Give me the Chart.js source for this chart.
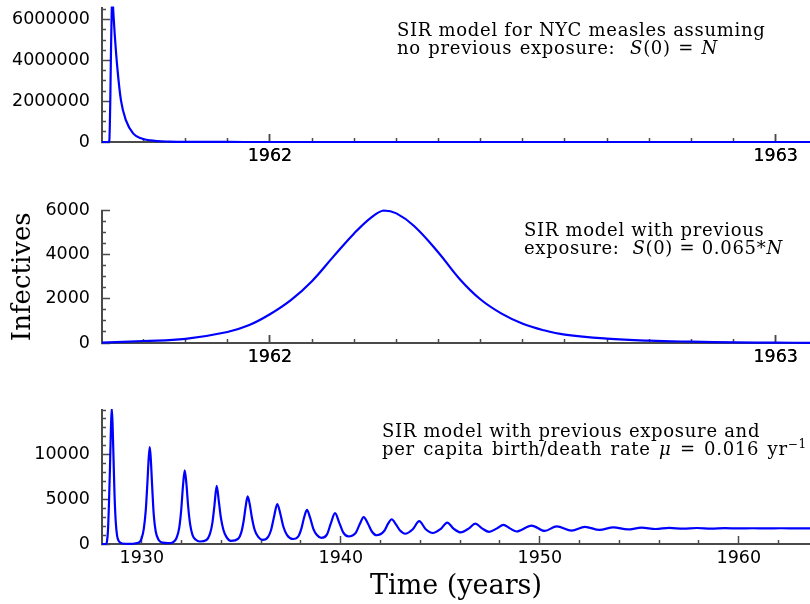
<!DOCTYPE html>
<html>
<head>
<meta charset="utf-8">
<script src="https://cdn.jsdelivr.net/npm/chart.js@4/dist/chart.umd.min.js"></script>
<style>
html,body{margin:0;padding:0;background:#fff;width:810px;height:604px;overflow:hidden;}
#wrap{position:relative;width:810px;height:604px;overflow:hidden;background:#fff;}
.cv{position:absolute;left:0;}
.note{position:absolute;font-family:"DejaVu Serif",serif;font-size:18px;line-height:18px;letter-spacing:0.7px;white-space:nowrap;color:#000;}
.note sup{font-size:12px;line-height:0;}
.ws1{word-spacing:1px;}
.ws3{word-spacing:2px;}
</style>
</head>
<body>
<div id="wrap">
  <canvas id="c1" class="cv" style="top:-23px" width="810" height="198"></canvas>
  <canvas id="c2" class="cv" style="top:180px" width="810" height="195"></canvas>
  <canvas id="c3" class="cv" style="top:375px" width="810" height="229"></canvas>
  <div class="note" style="left:397px;top:21px">SIR model for NYC measles assuming<br><span class="ws1">no previous exposure:&nbsp; <i>S</i>(0) = <i>N</i></span></div>
  <div class="note" style="left:524px;top:221px">SIR model with previous<br>exposure:&nbsp; <i>S</i>(0) = 0.065*<i>N</i></div>
  <div class="note" style="left:382px;top:422px">SIR model with previous exposure and<br><span class="ws3">per capita birth/death rate <i>μ</i> = 0.016 yr<sup>−1</sup></span></div>
</div>
<script>
// ---- Panel 1: no previous exposure (time in years, infectives)
const t1 = [1961.668, 1961.680, 1961.6824, 1961.6844, 1961.6858, 1961.6885, 1961.6903, 1961.6931, 1961.6982, 1961.7055, 1961.7154, 1961.7299, 1961.7465, 1961.763, 1961.80, 1961.85, 1961.95, 1962.2, 1963.07];
const i1 = [0, 0, 50000, 2040000, 4500000, 7200000, 6400000, 5300000, 3670000, 2040000, 1060000, 410000, 170000, 80000, 20000, 5000, 1000, 0, 0];

// ---- Panel 2: previous exposure S(0)=0.065N
const t2 = [1961.668, 1961.75, 1961.833, 1961.916, 1961.958, 1962.0, 1962.042, 1962.083, 1962.125, 1962.166, 1962.2, 1962.225, 1962.25, 1962.285, 1962.333, 1962.375, 1962.416, 1962.458, 1962.5, 1962.541, 1962.583, 1962.666, 1962.75, 1962.833, 1962.92, 1963.0, 1963.07];
const i2 = [20, 90, 190, 500, 800, 1300, 1950, 2800, 3900, 4950, 5680, 6000, 5870, 5300, 4100, 2900, 1980, 1330, 870, 580, 380, 200, 105, 60, 30, 15, 10];

// ---- Panel 3: with births/deaths
const t3 = [
  1928.00, 1928.20, 1928.25, 1928.30, 1928.35, 1928.40, 1928.45, 1928.49, 1928.53, 1928.58, 1928.63, 1928.69, 1928.76, 1928.85, 1929.00, 1929.40, 1929.70,
  1929.90, 1930.00, 1930.10, 1930.20, 1930.28, 1930.35, 1930.40, 1930.45, 1930.52, 1930.60, 1930.70, 1930.85, 1931.05, 1931.33,
  1931.60, 1931.75, 1931.88, 1931.98, 1932.07, 1932.156, 1932.24, 1932.33, 1932.43, 1932.55, 1932.70, 1932.92,
  1933.25, 1933.42, 1933.55, 1933.65, 1933.764, 1933.87, 1933.97, 1934.10, 1934.25, 1934.48,
  1934.85, 1935.00, 1935.12, 1935.22, 1935.32, 1935.42, 1935.53, 1935.67, 1935.85, 1936.08,
  1936.35, 1936.50, 1936.64, 1936.81, 1936.97, 1937.12, 1937.30, 1937.60,
  1937.88, 1938.03, 1938.16, 1938.30, 1938.45, 1938.62, 1938.80, 1939.02,
  1939.30, 1939.50, 1939.71, 1939.92, 1940.12, 1940.38,
  1940.75, 1940.95, 1941.15, 1941.36, 1941.56, 1941.80,
  1942.18, 1942.37, 1942.56, 1942.77, 1942.98, 1943.23,
  1943.62, 1943.94, 1944.27, 1944.62,
  1945.03, 1945.35, 1945.68, 1946.03,
  1946.44, 1946.76, 1947.10, 1947.45,
  1947.85, 1948.17, 1948.50, 1948.84,
  1949.59, 1950.25, 1950.85, 1951.60, 1952.27, 1953.00, 1953.70, 1954.42, 1955.12, 1955.82,
  1956.50, 1957.20, 1957.90, 1958.62, 1959.30, 1960.00, 1960.70, 1961.40, 1962.10, 1963.00, 1963.60
];
const i3 = [
  0, 0, 300, 1500, 4500, 8500, 13000, 15200, 13500, 9500, 5500, 2500, 900, 300, 60, 10, 80,
  250, 700, 1700, 3800, 6800, 9700, 10860, 9600, 6500, 3300, 1400, 450, 150, 90,
  250, 700, 1800, 3800, 6500, 8240, 6800, 4200, 2200, 1000, 500, 280,
  450, 1100, 2400, 4300, 6520, 4800, 3000, 1600, 800, 350,
  600, 1300, 2600, 4200, 5320, 4500, 3000, 1600, 800, 460,
  800, 1600, 3000, 4460, 3300, 1900, 1000, 560,
  900, 1800, 3000, 3820, 3000, 1700, 1000, 680,
  1050, 2300, 3450, 2400, 1300, 850,
  1250, 2200, 3000, 2300, 1400, 980,
  1450, 2250, 2770, 2200, 1500, 1150,
  1650, 2550, 1650, 1230,
  1700, 2400, 1700, 1300,
  1750, 2280, 1750, 1360,
  1750, 2130, 1750, 1400,
  2060, 1460, 1980, 1500, 1920, 1570, 1870, 1630, 1830, 1680,
  1800, 1710, 1790, 1730, 1775, 1745, 1765, 1752, 1762, 1756, 1758
];

// ---- Tick values
const xMajorA = [1962, 1963];
const xMinorA = []; for (let m = 9; m <= 24; m++) xMinorA.push(1961 + m / 12);
const xMajorB = [1930, 1940, 1950, 1960];
const xMinorB = [1932, 1934, 1936, 1938, 1942, 1944, 1946, 1948, 1952, 1954, 1956, 1958, 1962];
const y1Major = [0, 2000000, 4000000, 6000000];
const y1Minor = [500000, 1000000, 1500000, 2500000, 3000000, 3500000, 4500000, 5000000, 5500000, 6500000];
const y2Major = [0, 2000, 4000, 6000];
const y2Minor = [500, 1000, 1500, 2500, 3000, 3500, 4500, 5000, 5500];
const y3Major = [0, 5000, 10000];
const y3Minor = [1000, 2000, 3000, 4000, 6000, 7000, 8000, 9000, 11000, 12000, 13000, 14000, 15000];

const AX = '#4a4a4a';
const TICKFONT = {family: 'DejaVu Sans', size: 17.5};

function pts(t, v) { return t.map((x, k) => ({x: x, y: v[k]})); }
function isIn(arr, v) { return arr.some(a => Math.abs(a - v) < 1e-6); }

function panel(id, o) {
  const allX = o.xMajor.concat(o.xMinor).filter(v => v > o.xMin + 1e-6 && v <= o.xMax).sort((a, b) => a - b);
  const allY = o.yMajor.concat(o.yMinor).sort((a, b) => a - b);
  return new Chart(document.getElementById(id), {
    type: 'line',
    data: {datasets: [{data: pts(o.t, o.v), borderColor: '#0000ff', borderWidth: 2.2, pointRadius: 0,
      cubicInterpolationMode: o.mode, tension: 0.4, fill: false, clip: o.clip}]},
    options: {
      responsive: false, animation: false, events: [],
      layout: {padding: {top: o.padTop, left: 0, right: 0, bottom: 0}},
      plugins: {legend: {display: false}, tooltip: {enabled: false}},
      scales: {
        x: {
          type: 'linear', min: o.xMin, max: o.xMax,
          afterBuildTicks: s => { s.ticks = allX.map(v => ({value: v})); },
          afterFit: s => { s.height = o.xH; },
          grid: {drawOnChartArea: false, drawTicks: true, tickLength: -8, tickColor: AX, tickWidth: 1.5,
            tickBorderDash: c => (c.tick && isIn(o.xMajor, c.tick.value)) ? [] : [5, 100]},
          border: {display: true, color: AX, width: 2},
          ticks: {autoSkip: false, maxRotation: 0, minRotation: 0, padding: 12, color: '#000', font: TICKFONT,
            callback: v => isIn(o.xMajor, v) ? String(Math.round(v)) : ''},
          title: o.xTitle ? {display: true, text: o.xTitle, color: '#000', font: {family: 'DejaVu Serif', size: 27}, padding: {top: 0, bottom: 1}} : {display: false}
        },
        y: {
          type: 'linear', min: 0, max: o.yMax,
          afterBuildTicks: s => { s.ticks = allY.map(v => ({value: v})); },
          afterFit: s => { s.width = 102; },
          grid: {drawOnChartArea: false, drawTicks: true, tickLength: -8, tickColor: AX, tickWidth: 1.5,
            tickBorderDash: c => (c.tick && isIn(o.yMajor, c.tick.value)) ? [] : [0, 4, 6, 100]},
          border: {display: true, color: AX, width: 2},
          ticks: {autoSkip: false, padding: 20, color: '#000', font: TICKFONT,
            callback: v => isIn(o.yMajor, v) ? String(v) : ''},
          title: o.yTitle ? {display: true, text: o.yTitle, color: '#000', font: {family: 'DejaVu Serif', size: 26}, padding: {top: 8, bottom: 0}} : {display: false}
        }
      }
    }
  });
}

panel('c1', {t: t1, v: i1, xMin: 1961.668, xMax: 1963.067, yMax: 6600000, xMajor: xMajorA, xMinor: xMinorA,
  yMajor: y1Major, yMinor: y1Minor, padTop: 30, xH: 33, clip: 1, mode: 'monotone'});
panel('c2', {t: t2, v: i2, xMin: 1961.668, xMax: 1963.067, yMax: 6000, xMajor: xMajorA, xMinor: xMinorA,
  yMajor: y2Major, yMinor: y2Minor, padTop: 30, xH: 32, yTitle: 'Infectives', clip: false, mode: 'default'});
panel('c3', {t: t3, v: i3, xMin: 1928, xMax: 1963.58, yMax: 15000, xMajor: xMajorB, xMinor: xMinorB,
  yMajor: y3Major, yMinor: y3Minor, padTop: 35, xH: 60, xTitle: 'Time (years)', clip: 1, mode: 'monotone'});
</script>
</body>
</html>
